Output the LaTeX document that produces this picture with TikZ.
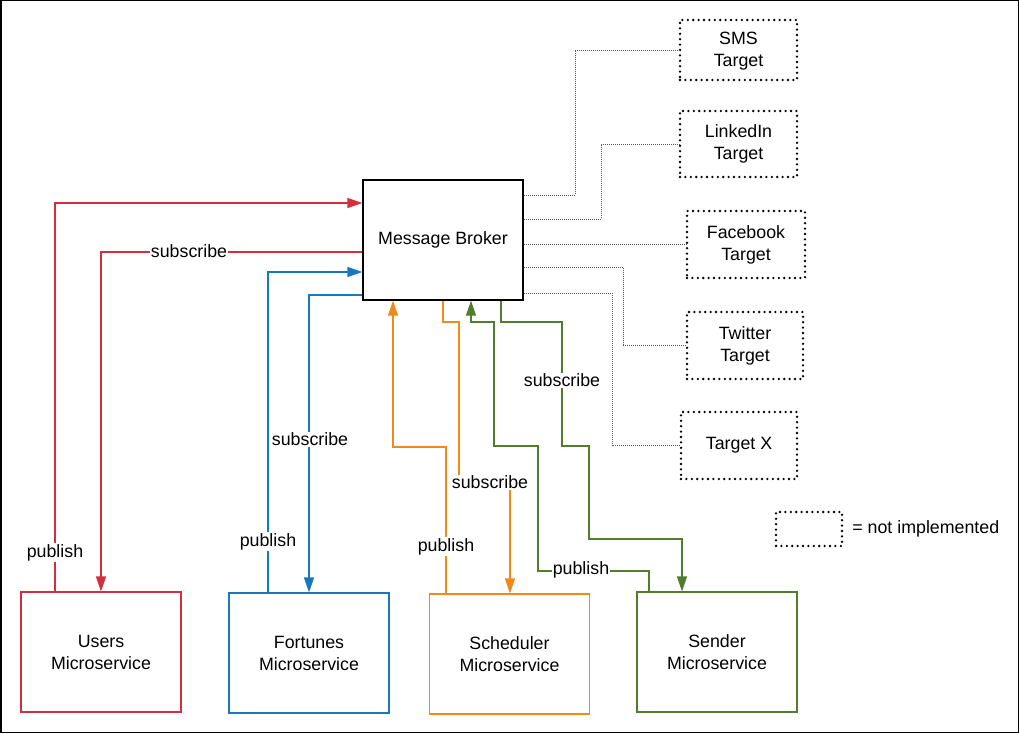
\documentclass[tikz,border=0pt]{standalone}
\usepackage{fontspec}
\setmainfont{Liberation Sans}
\usetikzlibrary{arrows.meta,positioning}

\definecolor{usersred}{HTML}{D12F3D}
\definecolor{fortblue}{HTML}{1878BE}
\definecolor{schedorange}{HTML}{F0891A}
\definecolor{sendgreen}{HTML}{517D2E}

\begin{document}
\begin{tikzpicture}[
    x = 1pt, y = -1pt, % one unit per pixel, y downwards
    > = {Triangle[length=15pt, width=10pt]}, % arrow head style
    font = \fontsize{17.8}{22}\selectfont,
    semithick % line style
    ]

    \tikzset{
    service/.style = {draw=#1, line width=1.1pt, fill=white, align=center,
        minimum width=160pt, minimum height=120pt, inner sep=0pt},
    target/.style = {draw = black, line width=2.6pt, line cap=round,
        dash pattern=on 0pt off 5.4pt, align=center, inner sep=0pt},
    link/.style = {black!65, line width=0.8pt, dash pattern=on 1pt off 1pt},
    flow/.style = {line width=1.3pt, ->},
    lbl/.style = {fill=white, inner sep=1pt}
    }
    \useasboundingbox (0,0) rectangle (1019,733);
    \draw[line width=1.5pt] (0.75,0.75) rectangle (1018.25,732.25);

    % broker and targets
    \node[draw, line width=1.3pt, minimum width=160pt, minimum height=120pt]
        (broker) at (443,240) {Message Broker};
    \node[target, minimum width=117pt, minimum height=60pt] (sms) at (738.5,50) {\strut SMS\\Target};
    \node[target, minimum width=117pt, minimum height=66pt] (linkedin) at (738.5,144) {LinkedIn\\Target};
    \node[target, minimum width=118pt, minimum height=67pt] (facebook) at (746,244.5) {Facebook\\Target};
    \node[target, minimum width=116pt, minimum height=67pt] (twitter) at (745,345.5) {Twitter\\Target};
    \node[target, minimum width=116pt, minimum height=67pt] (targetx) at (739,445.5) {Target X};
    \node[target, minimum width=66pt, minimum height=34pt] (legend) at (809,529) {};
    \node[anchor=west, inner sep=0pt] (legendtext) at (852,528.5) {= not implemented};

    % microservices
    \node[service=usersred] (users) at (101,652) {Users\\Microservice};
    \node[service=fortblue] (fortunes) at (309,653) {Fortunes\\Microservice};
    \node[service=schedorange] (scheduler) at (509.5,654) {Scheduler\\Microservice};
    \node[service=sendgreen] (sender) at (717,652) {Sender\\Microservice};

    % broker to targets
    \draw[link] (broker.east |- 0,195) -- (575,195) |- (sms.west);
    \draw[link] (broker.east |- 0,219) -- (601,219) |- (linkedin.west);
    \draw[link] (broker.east |- facebook.west) -- (facebook.west);
    \draw[link] (broker.east |- 0,267) -- (623,267) |- (twitter.west);
    \draw[link] (broker.east |- 0,293) -- (612,293) |- (targetx.west);

    % publish / subscribe
    \draw[flow, usersred] (users.north -| 55,0) |- (broker.west |- 0,203);
    \draw[flow, usersred] (broker.west |- 0,252) -| (users.north);
    \draw[flow, fortblue] (fortunes.north -| 268,0) |- (broker.west |- 0,272);
    \draw[flow, fortblue] (broker.west |- 0,295) -| (fortunes.north);
    \draw[flow, schedorange] (scheduler.north -| 446,0) |- (393,447) -- (broker.south -| 393,0);
    \draw[flow, schedorange] (broker.south) -- (443,322) -- (459,322) -- (459,481)
        -- (510,481) -- (scheduler.north -| 510,0);
    \draw[flow, sendgreen] (sender.north -| 649,0) |- (538,571) |- (494,446) |- (471,322)
        -- (broker.south -| 471,0);
    \draw[flow, sendgreen] (broker.south -| 501,0) |- (562,322) |- (589,446) |- (682,539)
        -- (sender.north -| 682,0);

    \node[lbl] (userspub) at (55,552.5) {publish};
    \node[lbl] (userssub) at (189,251) {subscribe};
    \node[lbl] (fortpub) at (268,541.5) {publish};
    \node[lbl] (fortsub) at (310,439.5) {subscribe};
    \node[lbl] (schedpub) at (446,546.5) {publish};
    \node[lbl] (schedsub) at (490,482.5) {subscribe};
    \node[lbl] (sendpub) at (581,569.5) {publish};
    \node[lbl] (sendsub) at (562,380.5) {subscribe};
\end{tikzpicture}
\end{document}
